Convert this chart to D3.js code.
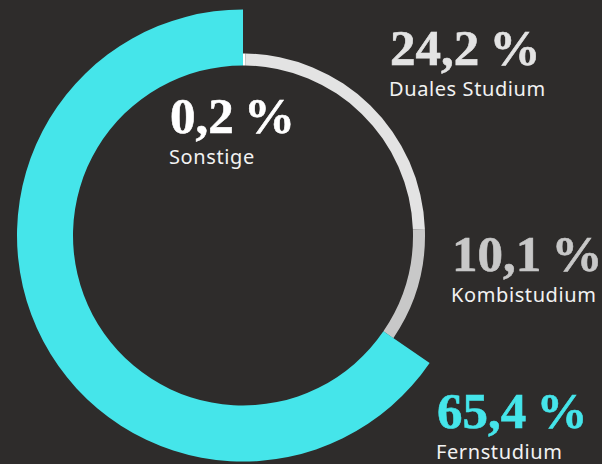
<!DOCTYPE html>
<html>
<head>
<meta charset="utf-8">
<script src="https://cdn.jsdelivr.net/npm/d3@7"></script>
<style>
  html, body { margin: 0; padding: 0; background: #2e2c2b; }
  svg { display: block; }
</style>
</head>
<body>
<div id="chart"></div>
<script>
// data
const categories = ["Sonstige", "Duales Studium", "Kombistudium", "Fernstudium"];
const shares = [0.2, 24.2, 10.1, 65.4];
const sliceColors = ["#ffffff", "#e3e3e3", "#c8c8c8", "#45e5ea"];

// label placement (left x, baseline of the number)
const labelPos = [
  [170, 133],
  [390, 65],
  [452, 271],
  [437, 428]
];

const width = 602, height = 464;
const cx = 243, cy = 235.5;
const innerR = 170;

const svg = d3.select("#chart")
  .append("svg")
  .attr("width", width)
  .attr("height", height);

svg.append("rect")
  .attr("width", width)
  .attr("height", height)
  .attr("fill", "#2e2c2b");

const rows = categories.map((c, i) => ({ name: c, value: shares[i], color: sliceColors[i] }));

const pie = d3.pie()
  .value(d => d.value)
  .sort(null);

// the highlighted slice gets the thick ring
const arc = d3.arc()
  .innerRadius(innerR)
  .outerRadius(d => d.data.name === "Fernstudium" ? 226 : 182);

const g = svg.append("g")
  .attr("transform", `translate(${cx},${cy})`);

g.selectAll("path")
  .data(pie(rows))
  .enter()
  .append("path")
  .attr("d", arc)
  .attr("fill", d => d.data.color);

// =========================
// LABELS
// =========================
const fmt = v => d3.format(".1f")(v).replace(".", ",") + "\u2009%";

rows.forEach((d, i) => {
  const [x, y] = labelPos[i];
  svg.append("text")
    .attr("x", x)
    .attr("y", y)
    .style("font-family", "'Liberation Serif', serif")
    .style("font-weight", "bold")
    .style("font-size", "51px")
    .style("stroke", d.color)
    .style("stroke-width", 0.6)
    .style("fill", d.color)
    .text(fmt(d.value));

  svg.append("text")
    .attr("x", x - 1)
    .attr("y", y + 31)
    .style("font-family", "'Noto Sans', sans-serif")
    .style("font-size", "20px")
    .style("letter-spacing", "0.6px")
    .style("fill", "#f2f2f2")
    .text(d.name);
});
</script>
</body>
</html>
